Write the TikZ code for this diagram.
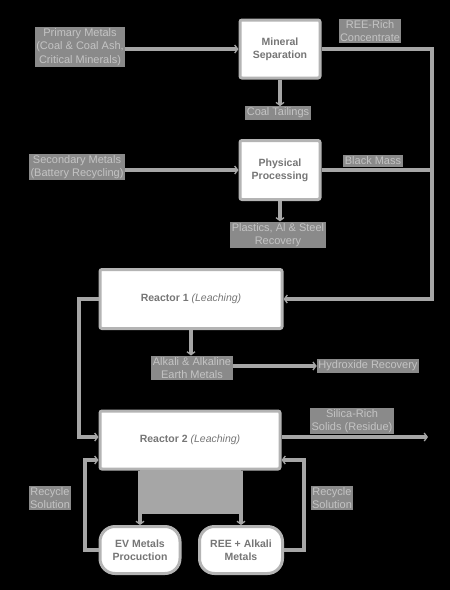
\documentclass[tikz,border=0pt]{standalone}
\usepackage{fontspec}
\setmainfont{Liberation Sans}
\usetikzlibrary{arrows.meta}
\definecolor{flowgray}{HTML}{A6A6A6}
\definecolor{framegray}{HTML}{B4B4B4}
\definecolor{boxtext}{HTML}{767676}
\definecolor{labelbg}{HTML}{8A8A8A}
\definecolor{labeltext}{HTML}{C4C4C4}
\begin{document}
\begin{tikzpicture}
[x=1pt, y=-1pt,
 procbox/.style={draw=framegray, line width=3pt, fill=white, rounded corners=2pt, text=boxtext, align=center, inner sep=0pt, font=\bfseries\fontsize{10.5}{13}\selectfont},
 endbox/.style={procbox, rounded corners=15pt},
 flowlabel/.style={fill=labelbg, text=labeltext, align=center, inner sep=1.5pt, font=\fontsize{11}{13.5}\selectfont},
 flow/.style={draw=flowgray, line width=4pt},
 flowarrow/.style={flow, -{Straight Barb[length=3pt, width=8pt, line width=1.3pt]}}]
    \fill[black] (0, 0) rectangle (450, 590);
    \useasboundingbox (0, 0) rectangle (450, 590);
    \coordinate (bus) at (432, 49);
    \coordinate (solidsend) at (428, 437);
    % boxes
    \node[procbox, minimum width=80, minimum height=58] (mineral) at (280, 49) {Mineral\\Separation};
    \node[procbox, minimum width=80, minimum height=59] (physical) at (280, 170) {Physical\\Processing};
    \node[procbox, minimum width=182, minimum height=59] (reactor1) at (191, 299) {Reactor 1 \textmd{\textit{(Leaching)}}};
    \node[procbox, minimum width=180, minimum height=58] (reactor2) at (190, 440) {Reactor 2 \textmd{\textit{(Leaching)}}};
    \node[endbox, minimum width=80, minimum height=47] (evmetals) at (140, 550) {EV Metals\\Procuction};
    \node[endbox, minimum width=83, minimum height=47] (reemetals) at (241, 550) {REE + Alkali\\Metals};
    % labels
    \node[flowlabel] (primary) at (80, 47) {Primary Metals\\(Coal \& Coal Ash,\\Critical Minerals)};
    \node[flowlabel] (concentrate) at (370, 31) {REE-Rich\\Concentrate};
    \node[flowlabel] (tailings) at (278, 113) {Coal Tailings};
    \node[flowlabel] (secondary) at (77, 167) {Secondary Metals\\(Battery Recycling)};
    \node[flowlabel] (blackmass) at (373, 161) {Black Mass};
    \node[flowlabel] (plastics) at (278, 235) {Plastics, Al \& Steel\\Recovery};
    \node[flowlabel] (alkali) at (192, 368) {Alkali \& Alkaline\\Earth Metals};
    \node[flowlabel] (hydroxide) at (368, 366) {Hydroxide Recovery};
    \node[flowlabel] (silica) at (352, 421) {Silica-Rich\\Solids (Residue)};
    \node[flowlabel] (recycleL) at (50, 498) {Recycle\\Solution};
    \node[flowlabel] (recycleR) at (332, 498) {Recycle\\Solution};
    % feeds
    \draw[flowarrow] (primary.east |- mineral.west) -- (mineral.west);
    \draw[flowarrow] (secondary.east |- physical.west) -- (physical.west);
    \draw[flowarrow] (mineral.south) -- (mineral.south |- tailings.north);
    \draw[flowarrow] (physical.south) -- (physical.south |- plastics.north);
    % concentrate and black mass to reactor 1
    \draw[flowarrow] (mineral.east) -- (bus) |- (reactor1.east);
    \draw[flow] (physical.east) -- (physical.east -| bus);
    % reactor 1
    \draw[flowarrow] (reactor1.south) -- (reactor1.south |- alkali.north);
    \draw[flowarrow] (alkali.east |- hydroxide.west) -- (hydroxide.west);
    \draw[flowarrow] (reactor1.west) -- ++(-20, 0) |- ([yshift=3pt]reactor2.west);
    % reactor 2
    \fill[flowgray] (140, 470) rectangle (241, 514);
    \draw[flowarrow] (reactor2.east |- solidsend) -- (solidsend);
    \draw[flowarrow] (reactor2.south -| evmetals) -- (evmetals.north);
    \draw[flowarrow] (reactor2.south -| reemetals) -- (reemetals.north);
    % recycle loops
    \draw[flowarrow] (evmetals.west) -- ++(-14, 0) |- ([yshift=-20pt]reactor2.west);
    \draw[flowarrow] (reemetals.east) -- ++(20, 0) |- ([yshift=-20pt]reactor2.east);
\end{tikzpicture}
\end{document}
